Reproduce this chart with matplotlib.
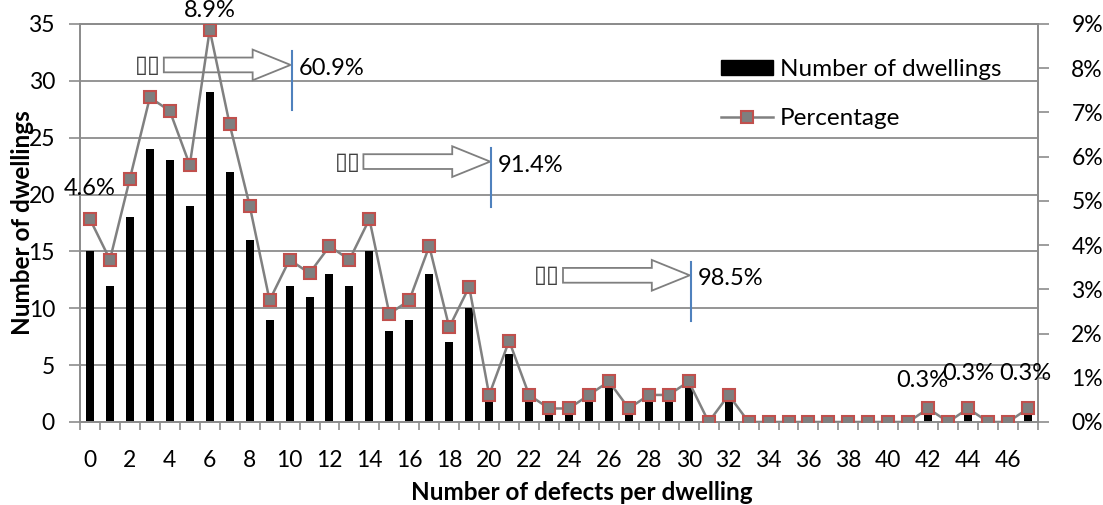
import numpy as np
import matplotlib
matplotlib.use('Agg')
import matplotlib.pyplot as plt
from matplotlib.patches import FancyArrow
from matplotlib.lines import Line2D
from matplotlib.patches import Patch
from matplotlib.ticker import PercentFormatter

plt.rcParams['font.family'] = ['Lato', 'DejaVu Sans']

# number of dwellings for each number of defects (0..47)
defects = list(range(48))
counts = [15, 12, 18, 24, 23, 19, 29, 22, 16, 9,
          12, 11, 13, 12, 15, 8, 9, 13, 7, 10,
          2, 6, 2, 1, 1, 2, 3, 1, 2, 2,
          3, 0, 2, 0, 0, 0, 0, 0, 0, 0,
          0, 0, 1, 0, 1, 0, 0, 1]
xtick_labels = [str(d) for d in defects[::2]]
labelled = [0, 6, 42, 44, 47]
cutoffs = [10, 20, 30]

counts = np.array(counts)
total = counts.sum()
pct = counts / total
cum = np.cumsum(counts) / total

fig = plt.figure(figsize=(11.03, 5.05), dpi=100)
ax = fig.add_axes([80 / 1103, 83 / 505, 958 / 1103, 398 / 505])

x = np.arange(len(defects))
ax.bar(x, counts, width=0.4, color='black', zorder=2)
ax.set_xlim(-0.5, len(defects) - 0.5)
ax.set_ylim(0, 35)
ax.set_yticks(range(0, 36, 5))
ax.grid(axis='y', color='#8c8c8c', lw=1.3)
ax.set_axisbelow(True)

ax.set_xticks(x[::2])
ax.set_xticklabels(xtick_labels)
ax.set_xticks(np.arange(-0.5, len(defects), 1), minor=True)
ax.tick_params(axis='x', which='major', length=0, pad=20, labelsize=16.5)
ax.tick_params(axis='x', which='minor', length=6, color='#8c8c8c', width=1.2)
ax.tick_params(axis='y', length=8, color='#8c8c8c', width=1.2, labelsize=16.5, pad=10)
for s in ['left', 'bottom', 'right', 'top']:
    ax.spines[s].set_color('#8c8c8c')
    ax.spines[s].set_linewidth(1.3)

ax.set_xlabel('Number of defects per dwelling', fontsize=17.5, fontweight='bold', va='center')
ax.xaxis.set_label_coords(0.524, -0.176)
ax.set_ylabel('Number of dwellings', fontsize=17.5, fontweight='bold', va='center')
ax.yaxis.set_label_coords(-0.0595, 0.5)

ax2 = ax.twinx()
ax2.plot(x, pct, color='#808080', lw=1.8, marker='s', ms=8,
         mfc='#7f7f7f', mec='#c0504d', mew=1.5, zorder=3)
ax2.set_ylim(0, 0.09)
ax2.set_yticks(np.arange(0, 0.091, 0.01))
ax2.yaxis.set_major_formatter(PercentFormatter(1.0, decimals=0))
ax2.tick_params(axis='y', length=8, color='#8c8c8c', width=1.2, labelsize=16.5, pad=16)
for s in ['left', 'bottom', 'right', 'top']:
    ax2.spines[s].set_color('#8c8c8c')
    ax2.spines[s].set_linewidth(1.3)

# value labels on a few points
offsets = {0: (0, 22), 6: (0, 14), 42: (-4, 20), 44: (0, 25), 47: (-2, 25)}
for i in labelled:
    ax2.annotate(f'{pct[i] * 100:.1f}%', (x[i], pct[i]), xytext=offsets[i],
                 textcoords='offset points', ha='center', va='center', fontsize=17)

# cumulative arrows
arrow_y = [31.4, 22.9, 12.9]
for c, ay in zip(cutoffs, arrow_y):
    tip = c + 0.05
    tail = tip - 6.35
    ax.add_patch(FancyArrow(tail, ay, tip - tail, 0, width=1.3, head_width=2.7,
                            head_length=1.9, length_includes_head=True,
                            fc='white', ec='#7f7f7f', lw=1.3, zorder=4))
    ax.plot([tip + 0.05, tip + 0.05], [ay + 1.2, ay - 4.0], color='#4f81bd', lw=1.5, zorder=4)
    ax.text(tail - 0.15, ay, '\u25af\u25af', ha='right', va='center', fontsize=17,
            color='#404040', family=['DejaVu Sans'], zorder=4)
    ax.text(tip + 0.4, ay - 0.3, f'{cum[c] * 100:.1f}%', ha='left', va='center',
            fontsize=17, zorder=4)

handles = [Patch(facecolor='black', edgecolor='black'),
           Line2D([], [], color='#808080', lw=1.8, marker='s', ms=8,
                  mfc='#7f7f7f', mec='#c0504d', mew=1.5)]
ax2.legend(handles, ['Number of dwellings', 'Percentage'], loc='upper left',
           bbox_to_anchor=(0.646, 0.967), frameon=False, fontsize=17.5,
           handlelength=2.14, handleheight=0.62, labelspacing=1.15, handletextpad=0.3)

fig.savefig('out.png', dpi=100)
